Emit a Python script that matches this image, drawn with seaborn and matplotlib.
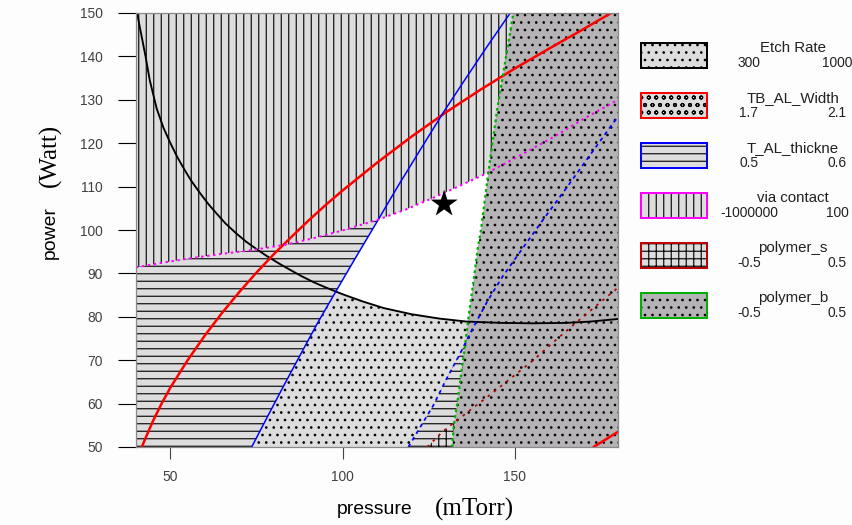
"""Overlay contour plot (process window) for pressure vs power."""
import matplotlib.pyplot as plt
import seaborn as sns
from matplotlib.patches import Rectangle

# contour boundaries: pressure (mTorr) / power (Watt)
etch_x = [40.3, 42.8, 44, 46, 48, 50, 52, 54, 56, 58.6, 61, 63.4, 66, 69,
          72, 75, 78, 81.5, 84.8, 88, 91.5, 95, 100, 106, 112, 120, 128, 136,
          146, 155, 165, 172, 180]
etch_y = [150, 139.9, 134.5, 128, 123.5, 120, 116.8, 114, 111.4, 108.5,
          106, 103.8, 101.5, 99.3, 97.3, 95.6, 94, 92.3, 90.8, 89.4, 88,
          86.8, 85.2, 83.5, 82, 80.6, 79.6, 78.9, 78.6, 78.5, 78.6, 78.9, 79.5]

width_lo_x = [41.7, 43, 45, 47.5, 50, 55, 60, 65, 70, 75, 80, 85, 90, 95,
              100, 110, 120, 130, 140, 150, 160, 170, 178]
width_lo_y = [50, 52.5, 56.1, 60.1, 63.7, 70, 75.7, 80.9, 85.7, 90.2, 94.4,
              98.3, 102.1, 105.7, 109.1, 115.5, 121.5, 127.1, 132.3, 137.2,
              141.8, 146.3, 150]
width_hi_x = [172.9, 180]
width_hi_y = [50, 53.5]

thick_lo_x = [73.6, 78, 82.7, 87.7, 92.9, 97.8, 103.7, 110.3, 116, 122.5,
              129.2, 135.5, 142, 148.7]
thick_lo_y = [50, 56.7, 63.8, 71.2, 78.8, 85.5, 93.5, 102.3, 110, 118.4,
              127, 134.6, 142.3, 150]
thick_hi_x = [119.1, 122.5, 126.3, 130, 134.2, 138, 142, 146.5, 151.6,
              158, 165.3, 172, 180]
thick_hi_y = [50, 54.5, 59.5, 65.4, 71.6, 77.6, 83.5, 89.3, 95, 102.1,
              110, 117.4, 126.2]

via_x = [40, 48, 56, 65, 74, 84, 92, 100, 110, 118, 126.3, 133, 140.9, 150,
         161.2, 170, 180]
via_y = [91.4, 92.5, 93.5, 94.5, 95.4, 96.7, 98.2, 99.9, 102.3, 104.6,
         107.4, 109.8, 112.7, 116.5, 121.4, 125.6, 130]

poly_s_x = [124.6, 129, 134.2, 138, 142, 148.5, 155.4, 161, 167, 173, 179.2,
            180]
poly_s_y = [50, 53.5, 56.7, 59.1, 61.5, 65.6, 70, 74, 78.1, 82.1, 86.2,
            86.7]

poly_b_x = [131.9, 132.3, 133.3, 134.3, 135.5, 136.6, 138, 139.3, 140.2,
            142.3, 145, 146.7, 149.6]
poly_b_y = [50, 55, 60, 66, 73, 80, 88, 96, 100, 113, 128.3, 136.2, 150]

opt_x = [129.5]
opt_y = [106]

# legend entries
leg_names = ["Etch Rate", "TB_AL_Width", "T_AL_thickne", "via contact",
             "polymer_s", "polymer_b"]
leg_low = ["300", "1.7", "0.5", "-1000000", "-0.5", "-0.5"]
leg_high = ["1000", "2.1", "0.6", "100", "0.5", "0.5"]
leg_edges = ["black", "#ff0000", "#0000ff", "#ff00ff", "#c00000", "#00b000"]
leg_hatch = ["..", "oo", "--", "||", "++", ".."]

LIGHT = "#dcdddc"
DARK = "#b5b3b5"
leg_faces = [LIGHT, LIGHT, LIGHT, LIGHT, LIGHT, DARK]

sns.set_style("white")
plt.rcParams["font.family"] = ["Liberation Sans", "DejaVu Sans"]
plt.rcParams["hatch.linewidth"] = 0.9

DPI = 90
fig = plt.figure(figsize=(852 / DPI, 525 / DPI), dpi=DPI, facecolor="#fcfdfc")
ax = fig.add_axes([136 / 852, 1 - 447 / 525, 482 / 852, 434 / 525])
ax.set_facecolor("white")

fill_kw = dict(edgecolor="black", linewidth=0)
# regions that fail a constraint, later ones drawn over earlier ones
ax.fill_between(width_lo_x, width_lo_y, 150, facecolor=LIGHT, hatch="oo",
                zorder=1, **fill_kw)
ax.fill_between(width_hi_x, 50, width_hi_y, facecolor=LIGHT, hatch="oo",
                zorder=1, **fill_kw)
ax.fill_between(etch_x, 50, etch_y, facecolor=LIGHT, hatch="..", zorder=2,
                **fill_kw)
ax.fill_betweenx(thick_lo_y, 40, thick_lo_x, facecolor=LIGHT, hatch="--",
                 zorder=3, **fill_kw)
ax.fill_betweenx(thick_hi_y, thick_hi_x, 180, facecolor=LIGHT, hatch="--",
                 zorder=3, **fill_kw)
ax.fill_between(via_x, via_y, 150, facecolor=LIGHT, hatch="||", zorder=4,
                **fill_kw)
ax.fill_between(poly_s_x, 50, poly_s_y, facecolor=LIGHT, hatch="++", zorder=5,
                **fill_kw)
ax.fill_betweenx(poly_b_y, poly_b_x, 180, facecolor=DARK, hatch="..",
                 zorder=6, **fill_kw)

line_kw = dict(sort=False, estimator=None, ax=ax, zorder=10)
sns.lineplot(x=etch_x, y=etch_y, color="black", lw=1.5, **line_kw)
sns.lineplot(x=width_lo_x, y=width_lo_y, color="#ff0000", lw=2, **line_kw)
sns.lineplot(x=width_hi_x, y=width_hi_y, color="#ff0000", lw=2, **line_kw)
sns.lineplot(x=thick_lo_x, y=thick_lo_y, color="#0000ff", lw=1.2, **line_kw)
sns.lineplot(x=thick_hi_x, y=thick_hi_y, color="#0000ff", lw=1.4,
             linestyle=(0, (2.2, 2.2)), **line_kw)
sns.lineplot(x=via_x, y=via_y, color="#ff00ff", lw=1.6,
             linestyle=(0, (1.2, 1.8)), **line_kw)
sns.lineplot(x=poly_s_x, y=poly_s_y, color="#b00000", lw=1.4,
             linestyle=(0, (1.5, 3)), **line_kw)
sns.lineplot(x=poly_b_x, y=poly_b_y, color="#00b000", lw=1.8,
             linestyle=(0, (1.2, 1.4)), **line_kw)
sns.scatterplot(x=opt_x, y=opt_y, marker="*", s=520, color="black",
                edgecolor="none", ax=ax, zorder=12)

ax.set_xlim(40, 180)
ax.set_ylim(50, 150)
ax.set_xticks([50, 100, 150])
ax.set_yticks(range(50, 151, 10))
ax.set_xlabel("")
ax.set_ylabel("")
for sp in ax.spines.values():
    sp.set_color("#8a8a8a")
    sp.set_linewidth(1)
    sp.set_zorder(15)
ax.tick_params(axis="y", left=True, length=14.4, width=0.9, color="black",
               pad=12, labelsize=11, labelcolor="#404040")
ax.tick_params(axis="x", bottom=True, length=9.4, width=0.9, color="#444444",
               pad=9, labelsize=11, labelcolor="#404040")

# overlay in pixel coordinates for axis titles and the legend
ov = fig.add_axes([0, 0, 1, 1], zorder=20)
ov.set_xlim(0, 852)
ov.set_ylim(525, 0)
ov.axis("off")

ov.text(375, 509, "pressure", fontsize=15.5, ha="center", va="center",
        color="black")
ov.text(474, 509, "(mTorr)", fontsize=20, ha="center", va="center",
        family="Liberation Serif", color="black")
ov.text(50, 233, "power", fontsize=15.5, ha="center", va="center",
        rotation=90, color="black")
ov.text(50, 155, "(Watt)", fontsize=20, ha="center", va="center",
        rotation=90, family="Liberation Serif", color="black")

for i, name in enumerate(leg_names):
    top = 43 + 50 * i
    ov.add_patch(Rectangle((641, top), 66, 25, facecolor=leg_faces[i],
                           hatch=leg_hatch[i], edgecolor="black", linewidth=0))
    ov.add_patch(Rectangle((641, top), 66, 25, facecolor="none",
                           edgecolor=leg_edges[i], linewidth=1.6))
    ov.text(793, top + 5, name, fontsize=12, ha="center", va="center",
            color="#202020")
    ov.text(749, top + 20, leg_low[i], fontsize=11, ha="center", va="center",
            color="#202020")
    ov.text(837, top + 20, leg_high[i], fontsize=11, ha="center", va="center",
            color="#202020")

fig.savefig("out.png", dpi=DPI, facecolor=fig.get_facecolor())
